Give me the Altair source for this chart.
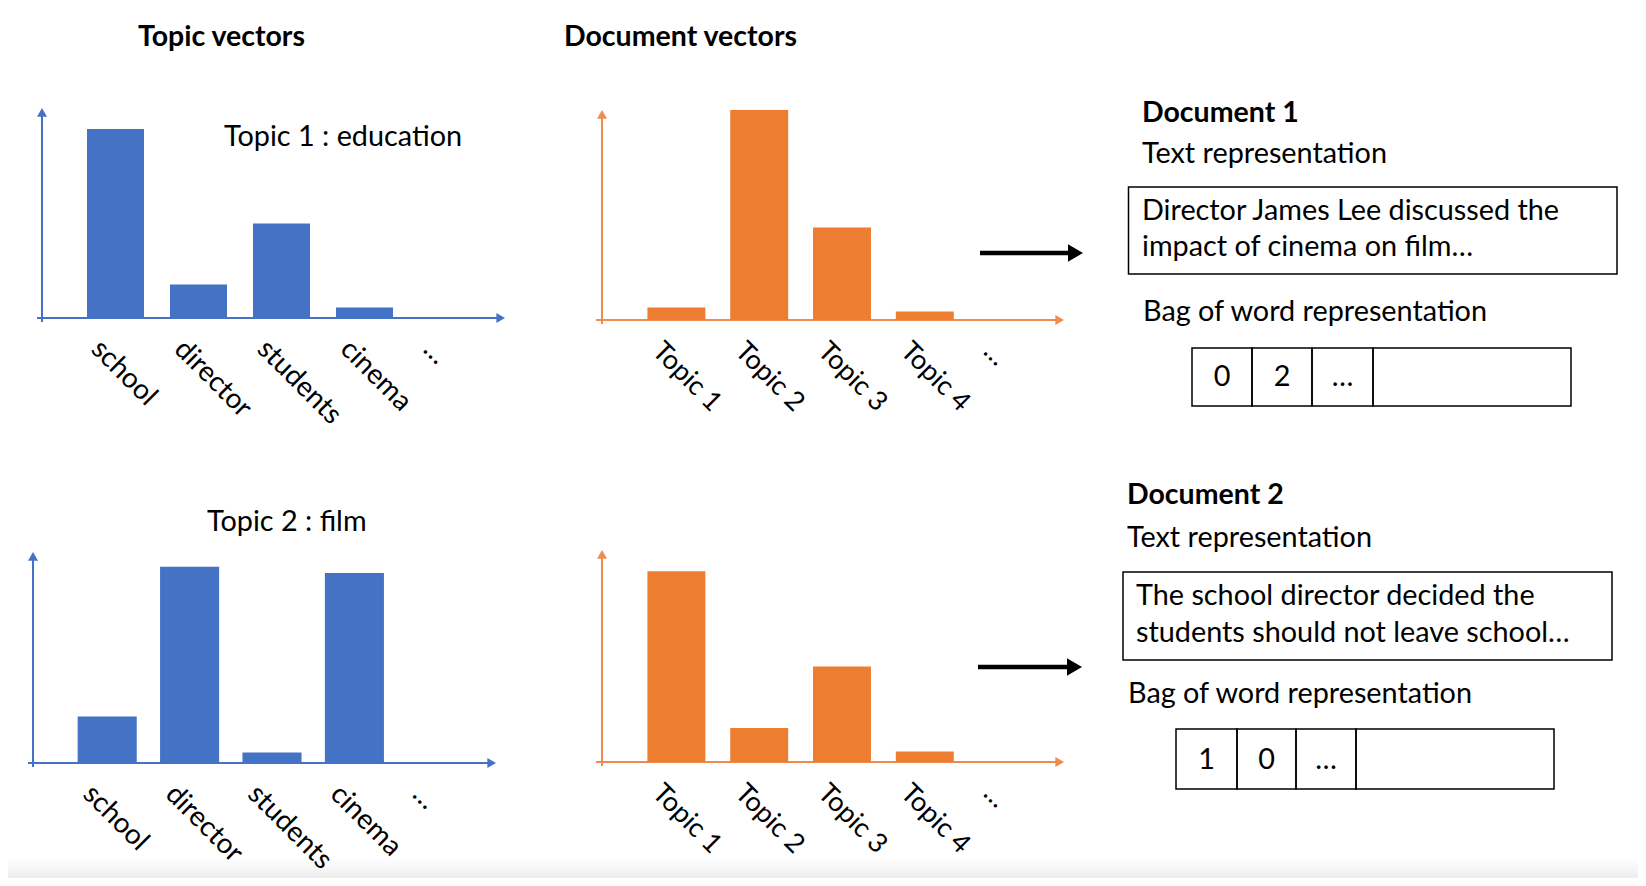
import altair as alt
import pandas as pd

# ---------------- data ----------------
words = ["school", "director", "students", "cinema", "…"]
topic1_weights = [90, 16, 45, 5]
topic2_weights = [22, 93, 5, 90]

topics = ["Topic 1", "Topic 2", "Topic 3", "Topic 4", "…"]
doc1_weights = [6, 100, 44, 4]
doc2_weights = [90, 16, 45, 5]

headers = ["Topic vectors", "Document vectors"]
topic_titles = ["Topic 1 : education", "Topic 2 : film"]
doc_titles = ["Document 1", "Document 2"]
doc_subtitles = ["Text representation", "Text representation"]
doc1_lines = ["Director James Lee discussed the", "impact of cinema on film…"]
doc2_lines = ["The school director decided the", "students should not leave school…"]
bow_titles = ["Bag of word representation", "Bag of word representation"]
bow1_cells = ["0", "2", "…", ""]
bow2_cells = ["1", "0", "…", ""]

# ---------------- style / layout ----------------
OFF = 8  # page margin


def P(v):
    return v - OFF


FONT = "Lato"
BLUE = "#4472C4"
ORANGE = "#ED7D31"
ORANGE_AX = "#F08A4F"
FS = 28.8
FSB = 28.5


def bar_panel(cats, vals, color, axis_color, band, yaxis, xaxis, label_size):
    r0, r1, pin = band
    ax_x, y_top, y_base = yaxis
    x_start, x_tip = xaxis
    xs = alt.Scale(domain=cats, range=[P(r0), P(r1)], paddingInner=pin, paddingOuter=pin / 2)
    ys = alt.Scale(domain=[0, 100], range=[P(y_base), P(y_top)])
    bars_df = pd.DataFrame({"cat": cats[:len(vals)], "val": vals})
    lab_df = pd.DataFrame({"cat": cats})
    bars = alt.Chart(bars_df).mark_bar(color=color).encode(
        x=alt.X("cat:N", scale=xs, axis=None),
        y=alt.Y("val:Q", scale=ys, axis=None),
    )
    labels = alt.Chart(lab_df).mark_text(
        angle=45, align="left", baseline="middle", dx=-14, dy=14,
        font=FONT, fontSize=label_size, color="black",
    ).encode(
        x=alt.X("cat:N", scale=xs, axis=None),
        y=alt.value(P(y_base + 27)),
        text="cat:N",
    )
    one = pd.DataFrame({"k": [0]})
    yline = alt.Chart(one).mark_rule(color=axis_color, strokeWidth=2).encode(
        x=alt.value(P(ax_x)), y=alt.value(P(y_base + 4)), y2=alt.value(P(y_top + 6)))
    xline = alt.Chart(one).mark_rule(color=axis_color, strokeWidth=2).encode(
        x=alt.value(P(x_start)), x2=alt.value(P(x_tip - 6)), y=alt.value(P(y_base)))
    yhead = alt.Chart(one).mark_point(shape="triangle-up", filled=True, size=100,
                                      opacity=1, color=axis_color).encode(
        x=alt.value(P(ax_x)), y=alt.value(P(y_top + 4.3)))
    xhead = alt.Chart(one).mark_point(shape="triangle-right", filled=True, size=100,
                                      opacity=1, color=axis_color).encode(
        x=alt.value(P(x_tip - 4.3)), y=alt.value(P(y_base)))
    return alt.layer(yline, xline, bars, labels, yhead, xhead)


def text_layer(texts, xs, ys, size=FS, weight="normal", align="left"):
    df = pd.DataFrame({"t": texts, "px": [P(v) for v in xs], "py": [P(v) for v in ys]})
    return alt.Chart(df).mark_text(
        font=FONT, fontSize=size, fontWeight=weight, align=align,
        baseline="alphabetic", color="black",
    ).encode(
        x=alt.X("px:Q", scale=None),
        y=alt.Y("py:Q", scale=None),
        text="t:N",
    )


def box_layer(x0, x1, y0, y1):
    df = pd.DataFrame({"a": [P(x0)], "b": [P(x1)], "c": [P(y0)], "d": [P(y1)]})
    return alt.Chart(df).mark_rect(fill="transparent", stroke="black", strokeWidth=1.5).encode(
        x=alt.X("a:Q", scale=None), x2="b:Q",
        y=alt.Y("c:Q", scale=None), y2="d:Q",
    )


def strip_layer(y0, y1):
    df = pd.DataFrame({"a": [-10], "b": [1660], "c": [P(y0)], "d": [P(y1)]})
    grad = alt.LinearGradient(
        gradient="linear", x1=0, x2=0, y1=0, y2=1,
        stops=[alt.GradientStop(color="#ffffff", offset=0),
               alt.GradientStop(color="#ededed", offset=1)],
    )
    return alt.Chart(df).mark_rect(fill=grad, strokeWidth=0).encode(
        x=alt.X("a:Q", scale=None), x2="b:Q",
        y=alt.Y("c:Q", scale=None), y2="d:Q",
    )


def cells_layer(values, edges, y0, y1, baseline):
    df = pd.DataFrame({
        "v": values,
        "a": [P(e) for e in edges[:-1]],
        "b": [P(e) for e in edges[1:]],
        "m": [P((edges[i] + edges[i + 1]) / 2) for i in range(len(values))],
        "c": [P(y0)] * len(values),
        "d": [P(y1)] * len(values),
        "bl": [P(baseline)] * len(values),
    })
    rects = alt.Chart(df).mark_rect(fill="transparent", stroke="black", strokeWidth=1.5).encode(
        x=alt.X("a:Q", scale=None), x2="b:Q",
        y=alt.Y("c:Q", scale=None), y2="d:Q",
    )
    txt = alt.Chart(df).mark_text(font=FONT, fontSize=FS, align="center",
                                  baseline="alphabetic", color="black").encode(
        x=alt.X("m:Q", scale=None), y=alt.Y("bl:Q", scale=None), text="v:N")
    return alt.layer(rects, txt)


def arrow_layer(x0, x_tip, y):
    one = pd.DataFrame({"k": [0]})
    line = alt.Chart(one).mark_rule(color="black", strokeWidth=4.5).encode(
        x=alt.value(P(x0)), x2=alt.value(P(x_tip - 10)), y=alt.value(P(y)))
    head = alt.Chart(one).mark_point(shape="triangle-right", filled=True, size=300,
                                     opacity=1, color="black").encode(
        x=alt.value(P(x_tip - 7.5)), y=alt.value(P(y)))
    return alt.layer(line, head)


# bar panels
p_t1 = bar_panel(words, topic1_weights, BLUE, BLUE, (74, 489, 0.313), (42, 108, 318), (37, 505), 28)
p_t2 = bar_panel(words, topic2_weights, BLUE, BLUE, (66, 478, 0.283), (33, 552, 763), (28, 496), 28)
p_d1 = bar_panel(topics, doc1_weights, ORANGE, ORANGE_AX, (635, 1049, 0.30), (602, 110, 320), (596, 1064), 27)
p_d2 = bar_panel(topics, doc2_weights, ORANGE, ORANGE_AX, (635, 1049, 0.30), (602, 550, 762), (596, 1064), 27)

layers = [
    strip_layer(858, 878),
    p_t1, p_t2, p_d1, p_d2,
    text_layer(headers, [138, 564], [46, 46], size=FSB, weight="bold"),
    text_layer(topic_titles, [224, 207], [146, 531]),
    text_layer(doc_titles, [1142, 1127], [122, 504], size=FSB, weight="bold"),
    text_layer(doc_subtitles, [1142, 1127], [163, 547]),
    box_layer(1128.5, 1617, 187, 274),
    box_layer(1123, 1612, 572, 660),
    text_layer(doc1_lines, [1142, 1142], [220, 256]),
    text_layer(doc2_lines, [1136, 1136], [605, 642]),
    text_layer(bow_titles, [1143, 1128], [321, 703]),
    cells_layer(bow1_cells, [1192, 1252, 1312, 1373, 1571], 348, 406, 386),
    cells_layer(bow2_cells, [1176, 1237, 1296, 1356, 1554], 729, 789, 769),
    arrow_layer(980, 1083, 253),
    arrow_layer(978, 1082, 667),
]

chart = alt.layer(*layers).resolve_scale(
    x="independent", y="independent"
).properties(
    width=1630, height=870,
    autosize=alt.AutoSizeParams(type="none"),
    padding=0,
).configure_view(stroke=None)

chart.save("out.html", embed_options={"renderer": "svg", "actions": False})
